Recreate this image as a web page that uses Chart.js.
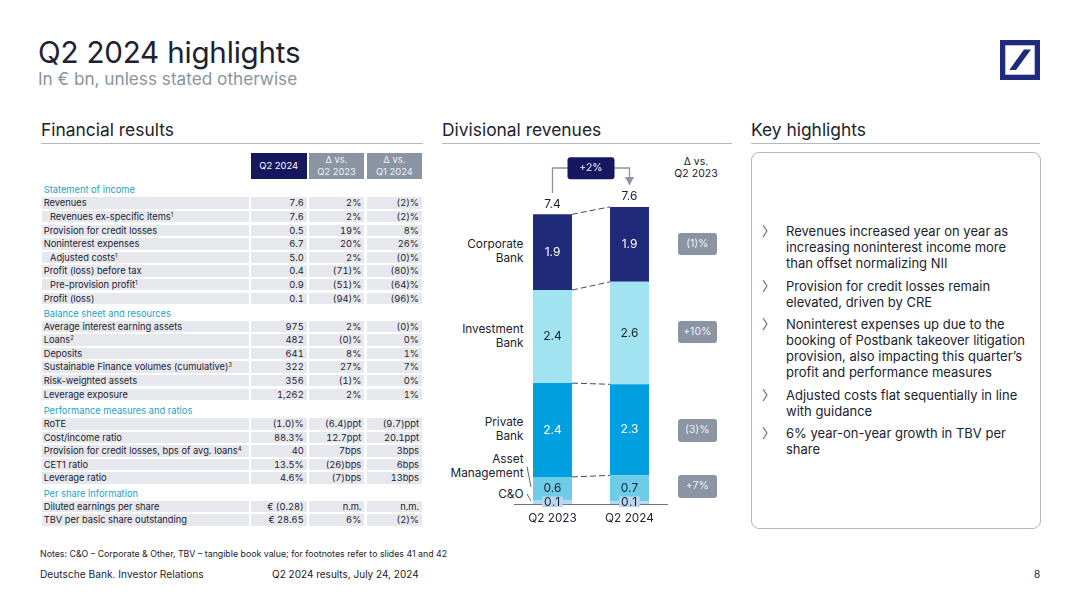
<!DOCTYPE html>
<html>
<head>
<meta charset="utf-8">
<script src="https://cdn.jsdelivr.net/npm/chart.js@4"></script>
<style>
    html, body { margin: 0; background: #fff; }
    #page { position: relative; width: 1080px; height: 608px; overflow: hidden; font-family: Inter, "Noto Sans", sans-serif; color: #1c2230; }
    #page div { position: absolute; white-space: nowrap; }
    .title { left: 38px; top: 33px; font-size: 29.6px; line-height: 38px; letter-spacing: -0.2px; }
    .subtitle { left: 38px; top: 68px; font-size: 17.2px; line-height: 22px; color: #8a94a3; }
    .heading { top: 119px; font-size: 17.4px; line-height: 22px; }
    .rule { top: 143px; height: 1px; background: #b4b9c2; }
    .cell { height: 11.5px; line-height: 11.5px; font-size: 9.3px; background: #e6e8ee; box-sizing: border-box; }
    .num { text-align: right; padding-right: 3px; font-variant-numeric: tabular-nums; }
    .sect { left: 43.7px; font-size: 9.3px; line-height: 12px; color: #1f9fc7; }
    .head { top: 152.7px; height: 26.6px; font-size: 9.4px; line-height: 12px; text-align: center; color: #eef0f4; background: #8a94a3; display: flex; align-items: center; justify-content: center; }
    sup { font-size: 6px; line-height: 0; vertical-align: 3px; }
    .side { width: 90px; left: 433.5px; text-align: right; font-size: 11.8px; line-height: 14px; }
    .pill { left: 678px; width: 38.5px; height: 22.4px; line-height: 22.4px; border-radius: 3px; background: #8a94a3; color: #eef0f4; text-align: center; font-size: 10.5px; }
    .bullet { left: 786px; font-size: 13px; line-height: 16px; }
    .chev { left: 762px; font-size: 13px; line-height: 16px; color: #4a5262; font-family: "Noto Sans CJK SC"; }
    .foot { font-size: 10px; line-height: 14px; }
    canvas { position: absolute; left: 514px; top: 150px; }
</style>
</head>
<body>
<div id="page">
    <div class="title">Q2 2024 highlights</div>
    <div class="subtitle">In € bn, unless stated otherwise</div>
    <svg style="position:absolute;left:1000px;top:40px" width="40" height="40" viewBox="0 0 40 40">
        <rect width="40" height="40" fill="#1f2a7a"/>
        <rect x="5.3" y="5.3" width="29.4" height="29.4" fill="#fff"/>
        <polygon points="9.3,30 16,30 31,9.5 24,9.5" fill="#1f2a7a"/>
    </svg>

    <div class="heading" style="left:41px">Financial results</div>
    <div class="heading" style="left:442px">Divisional revenues</div>
    <div class="heading" style="left:751px">Key highlights</div>
    <div class="rule" style="left:41px;width:382px"></div>
    <div class="rule" style="left:442px;width:290px"></div>
    <div class="rule" style="left:751px;width:289px"></div>

    <div id="table"></div>

    <div id="sideLabels"></div>
    <div style="left:666px;width:60px;top:156px;text-align:center;font-size:10.5px;line-height:12px">Δ vs.<br>Q2 2023</div>
    <div id="pills"></div>
    <canvas id="revChart" width="154" height="384"></canvas>
    <svg style="position:absolute;left:520px;top:460px" width="16" height="46">
        <path d="M7 6.5 L11 27 M7 34 L11 41" stroke="#3a4150" stroke-width="0.8" fill="none"/>
    </svg>

    <div style="left:751px;top:152px;width:288px;height:375px;border:1px solid #b4b9c2;border-radius:8px"></div>
    <div id="bullets"></div>

    <div class="foot" style="left:40px;top:547px;font-size:8.8px">Notes: C&amp;O – Corporate &amp; Other, TBV – tangible book value; for footnotes refer to slides 41 and 42</div>
    <div class="foot" style="left:40px;top:567px;font-size:10.2px">Deutsche Bank. Investor Relations</div>
    <div class="foot" style="left:272px;top:567px">Q2 2024 results, July 24, 2024</div>
    <div class="foot" style="left:1034px;top:567px">8</div>
</div>
<script>
// Divisional revenues (heights)
const quarters = ["Q2 2023", "Q2 2024"];
const totals = [7.4, 7.6];
const coValues = [0.09, 0.07];
const amValues = [0.6, 0.66];
const pbValues = [2.39, 2.32];
const ibValues = [2.37, 2.61];
const cbValues = [1.93, 1.91];
const deltaLabels = ["(1)%", "+10%", "(3)%", "+7%"];
const totalDelta = "+2%";

// Financial results table
const statementRows = [
    ["Revenues", "7.6", "2%", "(2)%"],
    ["Revenues ex-specific items<sup>1</sup>", "7.6", "2%", "(2)%", 1],
    ["Provision for credit losses", "0.5", "19%", "8%"],
    ["Noninterest expenses", "6.7", "20%", "26%"],
    ["Adjusted costs<sup>1</sup>", "5.0", "2%", "(0)%", 1],
    ["Profit (loss) before tax", "0.4", "(71)%", "(80)%"],
    ["Pre-provision profit<sup>1</sup>", "0.9", "(51)%", "(64)%", 1],
    ["Profit (loss)", "0.1", "(94)%", "(96)%"],
];
const balanceRows = [
    ["Average interest earning assets", "975", "2%", "(0)%"],
    ["Loans<sup>2</sup>", "482", "(0)%", "0%"],
    ["Deposits", "641", "8%", "1%"],
    ["Sustainable Finance volumes (cumulative)<sup>3</sup>", "322", "27%", "7%"],
    ["Risk-weighted assets", "356", "(1)%", "0%"],
    ["Leverage exposure", "1,262", "2%", "1%"],
];
const ratioRows = [
    ["RoTE", "(1.0)%", "(6.4)ppt", "(9.7)ppt"],
    ["Cost/income ratio", "88.3%", "12.7ppt", "20.1ppt"],
    ["Provision for credit losses, bps of avg. loans<sup>4</sup>", "40", "7bps", "3bps"],
    ["CET1 ratio", "13.5%", "(26)bps", "6bps"],
    ["Leverage ratio", "4.6%", "(7)bps", "13bps"],
];
const shareRows = [
    ["Diluted earnings per share", "€ (0.28)", "n.m.", "n.m."],
    ["TBV per basic share outstanding", "€ 28.65", "6%", "(2)%"],
];
const highlights = [
    "Revenues increased year on year as<br>increasing noninterest income more<br>than offset normalizing NII",
    "Provision for credit losses remain<br>elevated, driven by CRE",
    "Noninterest expenses up due to the<br>booking of Postbank takeover litigation<br>provision, also impacting this quarter’s<br>profit and performance measures",
    "Adjusted costs flat sequentially in line<br>with guidance",
    "6% year-on-year growth in TBV per<br>share",
];

function addDiv(parent, cls, style, html) {
    const el = document.createElement("div");
    el.className = cls;
    el.style.cssText = style;
    el.innerHTML = html;
    parent.appendChild(el);
    return el;
}

// bảng bên trái
const table = document.getElementById("table");
const colX = [[42, 206.7], [250.7, 56], [308.7, 55.6], [366.7, 55.3]];
addDiv(table, "head", "left:250.7px;width:56px;background:#16185f;color:#fff", "Q2 2024");
addDiv(table, "head", "left:308.7px;width:55.6px", "Δ vs.<br>Q2 2023");
addDiv(table, "head", "left:366.7px;width:55.3px", "Δ vs.<br>Q1 2024");

function addSection(title, titleY, rows, firstY) {
    addDiv(table, "sect", `top:${titleY - 5.5}px`, title);
    rows.forEach((row, i) => {
        const y = firstY + i * 13.6;
        const indent = row[4] ? 8 : 1.7;
        addDiv(table, "cell", `left:42px;width:206.7px;top:${y}px;padding-left:${indent}px`, row[0]);
        [1, 2, 3].forEach(c => {
            addDiv(table, "cell num", `left:${colX[c][0]}px;width:${colX[c][1]}px;top:${y}px`, row[c]);
        });
    });
}
addSection("Statement of income", 189, statementRows, 197.3);
addSection("Balance sheet and resources", 313, balanceRows, 320.5);
addSection("Performance measures and ratios", 410, ratioRows, 418);
addSection("Per share information", 493.3, shareRows, 500.7);

// nhãn hai bên biểu đồ
const sideLabels = document.getElementById("sideLabels");
[["Corporate<br>Bank", 237], ["Investment<br>Bank", 322], ["Private<br>Bank", 415], ["Asset<br>Management", 452], ["C&amp;O", 487]]
    .forEach(([text, y]) => addDiv(sideLabels, "side", `top:${y}px`, text));

const pills = document.getElementById("pills");
[233, 320.7, 419.3, 475.3].forEach((y, i) => addDiv(pills, "pill", `top:${y}px`, deltaLabels[i]));

// danh sách bên phải
const bullets = document.getElementById("bullets");
[223, 278, 316, 387, 425].forEach((y, i) => {
    addDiv(bullets, "chev", `top:${y}px`, "〉");
    addDiv(bullets, "bullet", `top:${y}px`, highlights[i]);
});

const barFont = "12px Inter";
const labelColors = ["#1c2230", "#1c2230", "#fff", "#1c2230", "#fff"];

const revenuePlugin = {
    id: "revenueMarks",
    afterDraw(chart) {
        const ctx = chart.ctx;
        const metas = chart.data.datasets.map((_, i) => chart.getDatasetMeta(i));
        ctx.save();

        // dashed links between the tops of the segments
        ctx.strokeStyle = "#3f4a66";
        ctx.lineWidth = 1;
        ctx.setLineDash([6, 3]);
        metas.slice(1).forEach(meta => {
            const a = meta.data[0];
            const b = meta.data[1];
            ctx.beginPath();
            ctx.moveTo(a.x + a.width / 2, a.y);
            ctx.lineTo(b.x - b.width / 2, b.y);
            ctx.stroke();
        });
        ctx.setLineDash([]);

        // segment values
        ctx.font = barFont;
        ctx.textAlign = "center";
        ctx.textBaseline = "middle";
        metas.forEach((meta, i) => {
            meta.data.forEach((bar, j) => {
                const value = chart.data.datasets[i].data[j].toFixed(1);
                const cy = (bar.y + bar.base) / 2;
                if (i === 0) {
                    ctx.fillStyle = "#bcd6f0";
                    ctx.fillRect(bar.x - 10.3, bar.base - 7.5, 20.6, 10.7);
                    ctx.fillStyle = labelColors[i];
                    ctx.letterSpacing = "0.8px";
                    ctx.fillText(value, bar.x, bar.base - 2);
                    ctx.letterSpacing = "0px";
                } else {
                    ctx.fillStyle = labelColors[i];
                    ctx.fillText(value, bar.x, cy);
                }
            });
        });

        // totals above the stacks
        const topMeta = metas[metas.length - 1];
        ctx.fillStyle = "#1c2230";
        topMeta.data.forEach((bar, j) => ctx.fillText(totals[j].toFixed(1), bar.x, bar.y - 10));

        // +2% bracket
        const x0 = topMeta.data[0].x;
        const x1 = topMeta.data[1].x;
        const pillTop = 7.3, pillH = 22, pillW = 47;
        const pillX = (x0 + x1) / 2 - pillW / 2;
        ctx.strokeStyle = "#8a94a3";
        ctx.lineWidth = 1.3;
        ctx.beginPath();
        ctx.moveTo(x0, 43);
        ctx.lineTo(x0, 18);
        ctx.lineTo(x1, 18);
        ctx.lineTo(x1, 28);
        ctx.stroke();
        ctx.fillStyle = "#8a94a3";
        ctx.beginPath();
        ctx.moveTo(x1 - 4.5, 27);
        ctx.lineTo(x1 + 4.5, 27);
        ctx.lineTo(x1, 35.5);
        ctx.closePath();
        ctx.fill();
        ctx.fillStyle = "#16185f";
        ctx.beginPath();
        ctx.roundRect(pillX, pillTop, pillW, pillH, 3);
        ctx.fill();
        ctx.fillStyle = "#eef0f4";
        ctx.font = "10.5px Inter";
        ctx.fillText(totalDelta, pillX + pillW / 2, pillTop + pillH / 2);
        ctx.restore();
    },
};

new Chart(document.getElementById("revChart"), {
    type: "bar",
    data: {
        labels: quarters,
        datasets: [
            { label: "C&O", data: coValues, backgroundColor: "#b8d6f0" },
            { label: "Asset Management", data: amValues, backgroundColor: "#6dcde8" },
            { label: "Private Bank", data: pbValues, backgroundColor: "#00a0e0" },
            { label: "Investment Bank", data: ibValues, backgroundColor: "#a2e3f2" },
            { label: "Corporate Bank", data: cbValues, backgroundColor: "#1f2a7a" },
        ],
    },
    options: {
        responsive: false,
        animation: false,
        layout: { padding: { top: 40 } },
        plugins: { legend: { display: false }, tooltip: { enabled: false } },
        datasets: { bar: { categoryPercentage: 1, barPercentage: 0.506 } },
        scales: {
            x: {
                stacked: true,
                afterFit(scale) { scale.height = 30; },
                grid: { display: false, drawTicks: false },
                border: { color: "#6c7482", width: 1 },
                ticks: { color: "#1c2230", font: { family: "Inter", size: 11.8 }, padding: 7, maxRotation: 0 },
            },
            y: { stacked: true, display: false, min: 0, max: 8 },
        },
    },
    plugins: [revenuePlugin],
});
</script>
</body>
</html>
